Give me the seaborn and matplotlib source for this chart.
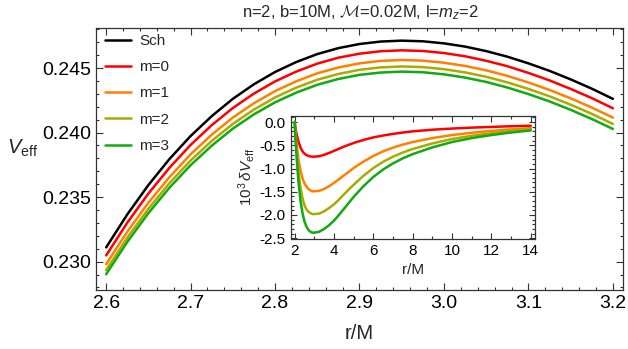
import numpy as np
import pandas as pd
import matplotlib
matplotlib.use("Agg")
import matplotlib.pyplot as plt
from matplotlib.ticker import MultipleLocator, FormatStrFormatter
import seaborn as sns

# ---------------- data ----------------
r_main = [2.600, 2.625, 2.650, 2.675, 2.700, 2.725, 2.750, 2.775, 2.800, 2.825,
          2.850, 2.875, 2.900, 2.925, 2.950, 2.975, 3.000, 3.025, 3.050, 3.075,
          3.100, 3.125, 3.150, 3.175, 3.200]
V_sch = [0.23110, 0.23365, 0.23593, 0.23795, 0.23973, 0.24127, 0.24261, 0.24374,
         0.24469, 0.24546, 0.24608, 0.24654, 0.24686, 0.24705, 0.24712, 0.24707,
         0.24691, 0.24666, 0.24631, 0.24588, 0.24536, 0.24478, 0.24412, 0.24340,
         0.24261]
V_m0 = [0.23048, 0.23301, 0.23527, 0.23727, 0.23904, 0.24057, 0.24190, 0.24302,
        0.24396, 0.24472, 0.24534, 0.24580, 0.24611, 0.24630, 0.24637, 0.24632,
        0.24616, 0.24591, 0.24556, 0.24514, 0.24462, 0.24404, 0.24338, 0.24267,
        0.24188]
V_m1 = [0.22980, 0.23231, 0.23456, 0.23655, 0.23831, 0.23983, 0.24116, 0.24227,
        0.24321, 0.24397, 0.24459, 0.24504, 0.24536, 0.24555, 0.24562, 0.24557,
        0.24541, 0.24516, 0.24482, 0.24439, 0.24388, 0.24330, 0.24265, 0.24194,
        0.24116]
V_m2 = [0.22935, 0.23185, 0.23409, 0.23608, 0.23783, 0.23935, 0.24067, 0.24178,
        0.24272, 0.24348, 0.24409, 0.24454, 0.24486, 0.24505, 0.24512, 0.24507,
        0.24491, 0.24466, 0.24432, 0.24389, 0.24338, 0.24281, 0.24216, 0.24145,
        0.24067]
V_m3 = [0.22902, 0.23152, 0.23375, 0.23573, 0.23747, 0.23898, 0.24030, 0.24141,
        0.24234, 0.24309, 0.24370, 0.24415, 0.24447, 0.24465, 0.24472, 0.24467,
        0.24451, 0.24426, 0.24392, 0.24349, 0.24298, 0.24241, 0.24176, 0.24105,
        0.24028]

r_inset = [2.0, 2.05, 2.1, 2.2, 2.3, 2.4, 2.5, 2.6, 2.7, 2.8, 2.9, 3.0, 3.25, 3.5,
           3.75, 4.0, 4.25, 4.5, 4.75, 5.0, 5.5, 6.0, 6.5, 7.0, 7.5, 8.0, 9.0,
           10.0, 11.0, 12.0, 13.0, 14.0]
dV_m0 = [0, -0.14, -0.26, -0.43, -0.55, -0.63, -0.68, -0.71, -0.73, -0.74, -0.745,
         -0.745, -0.735, -0.705, -0.665, -0.62, -0.575, -0.53, -0.49, -0.45,
         -0.385, -0.33, -0.29, -0.255, -0.225, -0.20, -0.165, -0.14, -0.12,
         -0.105, -0.09, -0.08]
dV_m1 = [0, -0.26, -0.49, -0.82, -1.05, -1.21, -1.32, -1.39, -1.44, -1.47, -1.49,
         -1.49, -1.48, -1.44, -1.38, -1.31, -1.23, -1.15, -1.07, -0.99, -0.85,
         -0.73, -0.63, -0.55, -0.485, -0.43, -0.345, -0.28, -0.23, -0.19, -0.16,
         -0.13]
dV_m2 = [0, -0.33, -0.63, -1.09, -1.42, -1.64, -1.79, -1.88, -1.93, -1.96, -1.98,
         -1.98, -1.97, -1.92, -1.85, -1.77, -1.67, -1.56, -1.45, -1.35, -1.155,
         -0.99, -0.855, -0.745, -0.655, -0.58, -0.46, -0.365, -0.295, -0.24,
         -0.195, -0.16]
dV_m3 = [0, -0.40, -0.76, -1.31, -1.70, -1.96, -2.14, -2.25, -2.32, -2.36, -2.38,
         -2.38, -2.36, -2.30, -2.22, -2.12, -2.00, -1.87, -1.74, -1.61, -1.38,
         -1.18, -1.02, -0.89, -0.78, -0.69, -0.545, -0.43, -0.345, -0.28, -0.225,
         -0.18]

labels_main = ["Sch", "m=0", "m=1", "m=2", "m=3"]
colors_main = ["#000000", "#ff0000", "#ff8000", "#aaaa00", "#11aa11"]

title_text = r"n=2, b=10M, $\mathcal{M}$=0.02M, l=$m_z$=2"

# ---------------- style ----------------
sns.set_style("ticks")
plt.rcParams["font.family"] = ["Liberation Sans", "DejaVu Sans"]
plt.rcParams["mathtext.fontset"] = "custom"
plt.rcParams["mathtext.rm"] = "Liberation Sans"
plt.rcParams["mathtext.it"] = "Liberation Sans:italic"
plt.rcParams["mathtext.bf"] = "Liberation Sans:bold"
plt.rcParams["mathtext.cal"] = "cmsy10"

W, H = 628, 349
fig = plt.figure(figsize=(W / 100, H / 100), dpi=100)

frame_col = "#333333"

def style_axes(ax, fs, major_len, minor_len):
    for s in ax.spines.values():
        s.set_color(frame_col)
        s.set_linewidth(0.9)
    ax.tick_params(which="both", direction="in", top=True, right=True,
                   colors=frame_col, labelcolor="black", labelsize=fs, width=0.8)
    ax.tick_params(which="major", length=major_len)
    ax.tick_params(which="minor", length=minor_len)

# main axes
ax = fig.add_axes([96 / W, 1 - 290 / H, 527 / W, 262 / H])
df_main = pd.DataFrame({
    "r": r_main * 5,
    "V": V_sch + V_m0 + V_m1 + V_m2 + V_m3,
    "series": sum([[lab] * len(r_main) for lab in labels_main], []),
})
sns.lineplot(data=df_main, x="r", y="V", hue="series", hue_order=labels_main,
             palette=colors_main, linewidth=1.8, ax=ax, legend=False,
             estimator=None, sort=False)
ax.set_xlim(2.588, 3.212)
ax.set_ylim(0.2278, 0.2481)
ax.xaxis.set_major_locator(MultipleLocator(0.1))
ax.xaxis.set_minor_locator(MultipleLocator(0.02))
ax.yaxis.set_major_locator(MultipleLocator(0.005))
ax.yaxis.set_minor_locator(MultipleLocator(0.001))
ax.xaxis.set_major_formatter(FormatStrFormatter("%.1f"))
ax.yaxis.set_major_formatter(FormatStrFormatter("%.3f"))
style_axes(ax, 14, 5, 2.5)
ax.set_xlabel("r/M", fontsize=14.5, labelpad=9)
ax.set_ylabel(r"$V_{\mathrm{eff}}$", fontsize=14.5, rotation=0, labelpad=0)
ax.yaxis.set_label_coords(-0.14, 0.5)

handles = [plt.Line2D([], [], color=c, lw=1.8) for c in colors_main]
leg = ax.legend(handles, labels_main, loc="upper left",
                bbox_to_anchor=(105 / W, 1 - 34 / H), bbox_transform=fig.transFigure,
                frameon=False, fontsize=11, handlelength=1.7, handletextpad=0.55,
                labelspacing=0.8, borderpad=0, borderaxespad=0)

fig.text(360 / W, 1 - 13 / H, title_text, ha="center", va="center", fontsize=12)

# inset axes
axi = fig.add_axes([290.7 / W, 1 - 238.7 / H, 244.6 / W, 122.7 / H])
df_in = pd.DataFrame({
    "r": r_inset * 4,
    "dV": dV_m0 + dV_m1 + dV_m2 + dV_m3,
    "series": sum([[lab] * len(r_inset) for lab in labels_main[1:]], []),
})
sns.lineplot(data=df_in, x="r", y="dV", hue="series", hue_order=labels_main[1:],
             palette=colors_main[1:], linewidth=1.8, ax=axi, legend=False,
             estimator=None, sort=False)
axi.set_xlim(1.80, 14.23)
axi.set_ylim(-2.51, 0.13)
axi.xaxis.set_major_locator(MultipleLocator(2))
axi.xaxis.set_minor_locator(MultipleLocator(1))
axi.yaxis.set_major_locator(MultipleLocator(0.5))
axi.yaxis.set_minor_locator(MultipleLocator(0.1))
axi.yaxis.set_major_formatter(FormatStrFormatter("%.1f"))
style_axes(axi, 11, 4, 2)
axi.set_xlabel("r/M", fontsize=11, labelpad=4)
axi.set_ylabel(r"$10^3\,\delta V_{\mathrm{eff}}$", fontsize=11, labelpad=2)
axi.set_facecolor("white")

fig.savefig("out.png", dpi=100)
